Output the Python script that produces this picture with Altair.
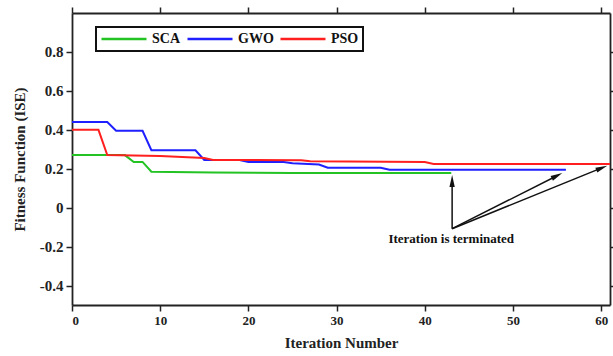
import math
import altair as alt
import pandas as pd

# ---- data ----
series_names = ["SCA", "GWO", "PSO"]
series_colors = ["#22c322", "#1f1fff", "#ff1f1f"]

sca_iter = [0, 6, 7, 8, 9, 16, 25, 43]
sca_val = [0.27, 0.27, 0.235, 0.235, 0.185, 0.181, 0.178, 0.178]

gwo_iter = [0, 4, 5, 8, 9, 14, 15, 19, 20, 24, 25, 28, 29, 35, 36, 56]
gwo_val = [0.44, 0.44, 0.395, 0.395, 0.295, 0.295, 0.245, 0.245, 0.235, 0.235,
           0.228, 0.222, 0.205, 0.205, 0.195, 0.195]

pso_iter = [0, 3, 4, 10, 15, 16, 26, 27, 40, 41, 61]
pso_val = [0.40, 0.40, 0.27, 0.265, 0.255, 0.245, 0.244, 0.238, 0.235, 0.224, 0.224]

x_ticks = [0, 10, 20, 30, 40, 50, 60]
y_ticks = [-0.4, -0.2, 0, 0.2, 0.4, 0.6, 0.8]
x_domain = [0, 61]
y_domain = [-0.5, 1.0]

annot_text = "Iteration is terminated"
annot_pos = (43, -0.16)
arrow_start = (43.1, -0.108)
arrow_tips = [(43.1, 0.168), (55.6, 0.178), (60.7, 0.216)]

# ---- layout constants ----
W, H = 538, 292
px_x = W / (x_domain[1] - x_domain[0])
px_y = H / (y_domain[1] - y_domain[0])

rows = []
for name, its, vals in [("SCA", sca_iter, sca_val), ("GWO", gwo_iter, gwo_val), ("PSO", pso_iter, pso_val)]:
    for i, v in zip(its, vals):
        rows.append({"series": name, "iter": i, "val": v})
df = pd.DataFrame(rows)

# arrows
arrow_rows = []
head_rows = []
head_len = 6
for tx, ty in arrow_tips:
    dxp = (tx - arrow_start[0]) * px_x
    dyp = (ty - arrow_start[1]) * px_y  # up positive
    L = math.hypot(dxp, dyp)
    ang = math.degrees(math.atan2(dxp, dyp)) % 360
    cx = tx - dxp / L * head_len / px_x
    cy = ty - dyp / L * head_len / px_y
    arrow_rows.append({"x": arrow_start[0], "y": arrow_start[1], "x2": cx, "y2": cy})
    head_rows.append({"x": cx, "y": cy, "angle": ang})
arrows_df = pd.DataFrame(arrow_rows)
heads_df = pd.DataFrame(head_rows)

FONT = "Liberation Serif"

xscale = alt.Scale(domain=x_domain, nice=False, zero=False)
yscale = alt.Scale(domain=y_domain, nice=False, zero=False)

label_expr = "datum.value == 0 ? '0' : (datum.value < 0 ? '-' : '') + format(abs(datum.value), '.1f')"

lines = alt.Chart(df).mark_line(strokeWidth=2).encode(
    x=alt.X("iter:Q", scale=xscale,
            axis=alt.Axis(values=x_ticks, title="Iteration Number", titlePadding=8,
                          labelFont=FONT, labelFontWeight="bold", labelFontSize=13)),
    y=alt.Y("val:Q", scale=yscale,
            axis=alt.Axis(values=y_ticks, title="Fitness Function (ISE)",
                          labelExpr=label_expr, titlePadding=12,
                          labelFont=FONT, labelFontWeight="bold", labelFontSize=15)),
    color=alt.Color("series:N",
                    scale=alt.Scale(domain=series_names, range=series_colors),
                    sort=series_names,
                    legend=alt.Legend(title=None, orient="none", direction="horizontal",
                                      legendX=24, legendY=14, symbolType="stroke",
                                      symbolSize=2025, symbolStrokeWidth=2.5,
                                      clipHeight=16,
                                      strokeColor="#111", padding=4,
                                      labelFont=FONT, labelFontWeight="bold",
                                      labelFontSize=14, labelColor="#111",
                                      columnPadding=5, labelOffset=4)),
)

rules = alt.Chart(arrows_df).mark_rule(color="#111", strokeWidth=1.5).encode(
    x=alt.X("x:Q", scale=xscale, axis=None),
    y=alt.Y("y:Q", scale=yscale, axis=None),
    x2="x2:Q", y2="y2:Q")

heads = alt.Chart(heads_df).mark_point(
    shape="M0,-1L0.45,1L-0.45,1Z", filled=True, color="#111", opacity=1, size=140
).encode(x=alt.X("x:Q", scale=xscale, axis=None),
         y=alt.Y("y:Q", scale=yscale, axis=None),
         angle=alt.Angle("angle:Q", scale=None))

text = alt.Chart(pd.DataFrame([{"x": annot_pos[0], "y": annot_pos[1], "t": annot_text}])).mark_text(
    font=FONT, fontWeight="bold", fontSize=13, color="#111"
).encode(x=alt.X("x:Q", scale=xscale, axis=None),
         y=alt.Y("y:Q", scale=yscale, axis=None), text="t:N")

# top/right frame ticks
frame = alt.Chart(df).mark_point(opacity=0).encode(
    x=alt.X("iter:Q", scale=xscale,
            axis=alt.Axis(orient="top", values=x_ticks, labels=False, title=None)),
    y=alt.Y("val:Q", scale=yscale,
            axis=alt.Axis(orient="right", values=y_ticks, labels=False, title=None)),
)

chart = alt.layer(lines, rules, heads, text, frame).resolve_axis(
    x="independent", y="independent"
).properties(
    width=W, height=H,
    autosize=alt.AutoSizeParams(type="none"),
    padding={"left": 72, "top": 13, "right": 3, "bottom": 51},
).configure_view(stroke=None).configure_legend(strokeWidth=2).configure_axis(
    grid=False, domainColor="#222", domainWidth=1.8, tickColor="#222", tickWidth=1.5,
    tickSize=6, labelFont=FONT, labelFontWeight="bold",
    labelColor="#222", titleFont=FONT, titleFontWeight="bold", titleFontSize=15,
    titleColor="#222", labelPadding=3
)

chart.save("out.html", embed_options={"renderer": "svg", "actions": False})
